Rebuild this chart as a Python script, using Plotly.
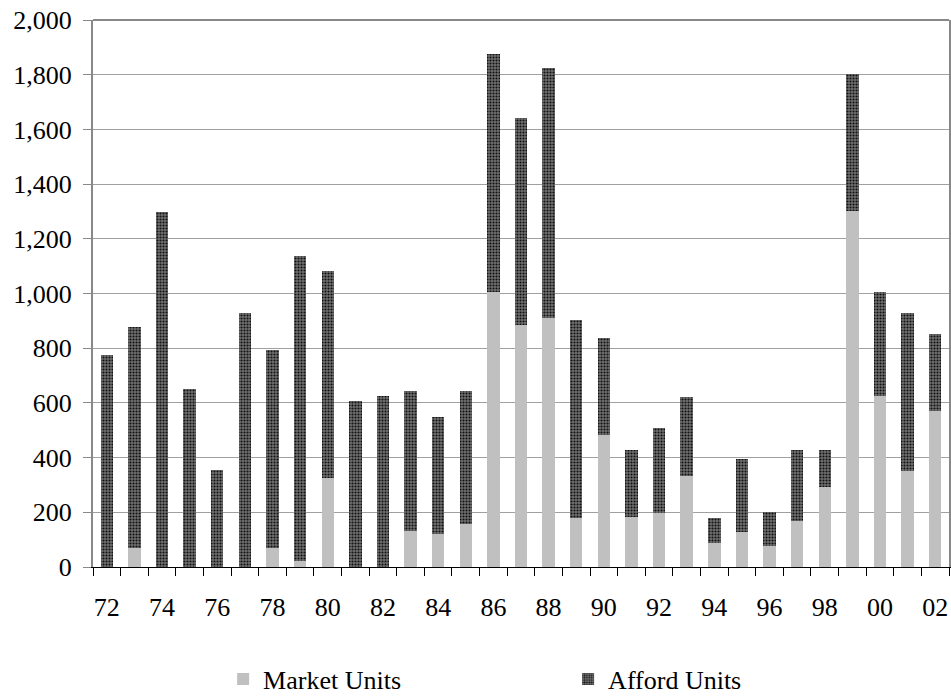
import plotly.graph_objects as go

years = ["72","73","74","75","76","77","78","79","80","81","82","83","84","85","86","87",
         "88","89","90","91","92","93","94","95","96","97","98","99","00","01","02"]
totals = [775, 876, 1297, 650, 355, 927, 793, 1137, 1084, 606, 624, 642, 547, 642, 1876, 1640,
          1825, 902, 839, 427, 507, 621, 179, 395, 201, 427, 427, 1804, 1004, 927, 851]
market = [0, 70, 0, 0, 0, 0, 70, 22, 324, 0, 0, 131, 121, 159, 1006, 885,
          911, 180, 483, 184, 196, 334, 87, 127, 75, 170, 293, 1303, 626, 352, 571]
afford = [t - m for t, m in zip(totals, market)]
tick_labels = [y if i % 2 == 0 else "" for i, y in enumerate(years)]

font = dict(family="Liberation Serif, Times New Roman, serif", size=26, color="black")

fig = go.Figure()
fig.add_trace(go.Bar(x=years, y=market, name="Market Units",
                     marker=dict(color="#c0c0c0", line=dict(width=0))))
fig.add_trace(go.Bar(x=years, y=afford, name="Afford Units",
                     marker=dict(color="#3c3c3c", line=dict(width=0),
                                 pattern=dict(shape=".", size=3, solidity=0.4,
                                              fgcolor="#111111", bgcolor="#707070",
                                              fillmode="replace"))))

fig.update_layout(
    barmode="stack", bargap=0.55,
    width=951, height=700,
    margin=dict(l=93, r=2, t=20, b=133),
    paper_bgcolor="white", plot_bgcolor="white",
    font=font,
    showlegend=True,
    legend=dict(orientation="h", traceorder="normal", x=0.152, xanchor="left",
                yref="container", y=0.03, yanchor="middle", entrywidth=300, font=font,
                bgcolor="rgba(0,0,0,0)"),
    shapes=[dict(type="line", xref="paper", yref="paper", x0=0, x1=1, y0=1, y1=1,
                 line=dict(color="#888888", width=2))],
)
fig.update_xaxes(type="category", tickvals=years, ticktext=tick_labels,
                 tickson="boundaries", ticks="outside", ticklen=8, tickcolor="black",
                 showline=True, linecolor="black", linewidth=1,
                 showgrid=False, tickangle=0, tickfont=font,
                 ticklabelstandoff=17, automargin=False)
fig.update_yaxes(range=[0, 2000], dtick=200, tickformat=",",
                 showgrid=True, gridcolor="#a0a0a0", gridwidth=1,
                 showline=True, linecolor="#888888", linewidth=2, mirror=True,
                 ticks="outside", ticklen=8, tickcolor="#888888",
                 zeroline=False, tickfont=font, ticklabelstandoff=6, automargin=False)

fig.write_html("out.html", config={"displayModeBar": False},
               post_script="document.body.style.margin='0';")
